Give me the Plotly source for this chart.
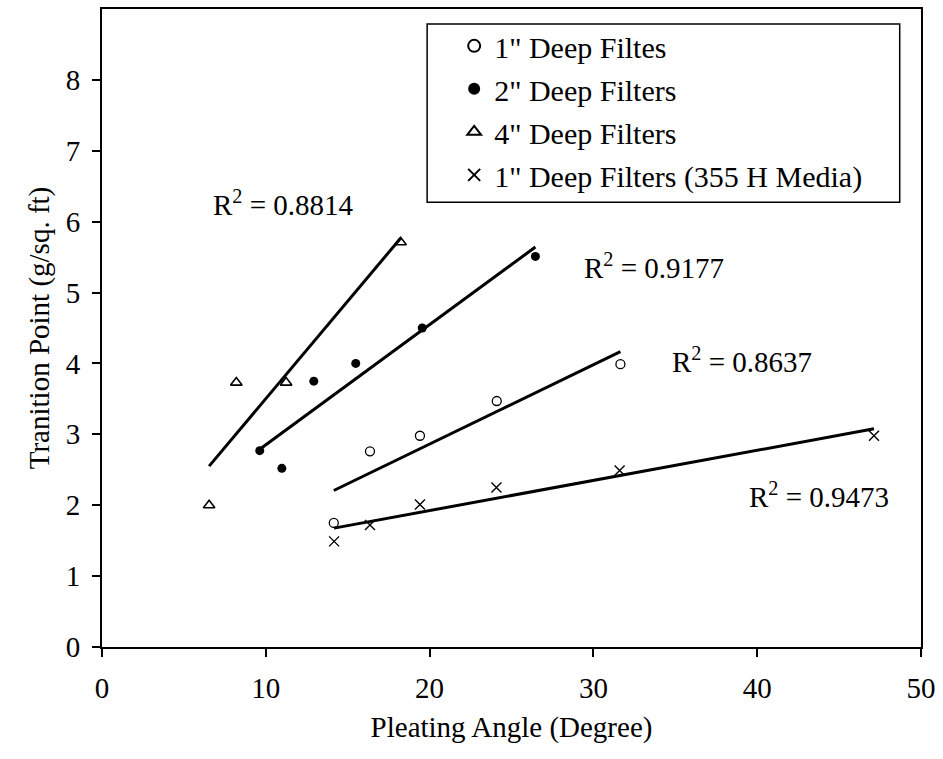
import numpy as np
import plotly.graph_objects as go

# Pleating angle (deg) vs. transition point (g/sq. ft)
x_1in = [14.15, 16.36, 19.41, 24.1, 31.65]
y_1in = [1.75, 2.76, 2.98, 3.47, 3.99]

x_2in = [9.63, 10.98, 12.93, 15.49, 19.55, 26.46]
y_2in = [2.77, 2.52, 3.75, 4.0, 4.5, 5.51]

x_4in = [6.54, 8.2, 11.24, 18.23]
y_4in = [2.0, 3.73, 3.73, 5.71]

x_355 = [14.17, 16.36, 19.41, 24.08, 31.6, 47.13]
y_355 = [1.49, 1.72, 2.01, 2.25, 2.49, 2.98]

r2_labels = ["R<sup>2</sup> = 0.8814", "R<sup>2</sup> = 0.9177",
             "R<sup>2</sup> = 0.8637", "R<sup>2</sup> = 0.9473"]
r2_x = [11.1, 33.7, 39.1, 43.8]
r2_y = [6.27, 5.38, 4.05, 2.15]

FONT = "Liberation Serif, Times New Roman, serif"
FS = 29

series = [
    ("1\" Deep Filtes", x_1in, y_1in, dict(symbol="circle-open", size=9, color="black", line=dict(width=1.3))),
    ("2\" Deep Filters", x_2in, y_2in, dict(symbol="circle", size=9, color="black")),
    ("4\" Deep Filters", x_4in, y_4in, dict(symbol="triangle-up-open", size=10, color="black", line=dict(width=1.6))),
    ("1\" Deep Filters (355 H Media)", x_355, y_355, dict(symbol="x-thin-open", size=10, color="black", line=dict(width=1.4))),
]

fig = go.Figure()

# linear trendlines over each series' x range
for name, xs, ys, _ in series:
    xs_a = np.array(xs)
    k, b = np.polyfit(xs_a, np.array(ys), 1)
    xl = np.array([xs_a.min(), xs_a.max()])
    fig.add_trace(go.Scatter(x=xl, y=k * xl + b, mode="lines",
                             line=dict(color="black", width=3),
                             showlegend=False, hoverinfo="skip"))

for i, (name, xs, ys, mk) in enumerate(series):
    fig.add_trace(go.Scatter(x=xs, y=ys, mode="markers", name=name,
                             marker=mk, legendgroup=f"g{i}"))

for txt, ax, ay in zip(r2_labels, r2_x, r2_y):
    fig.add_annotation(x=ax, y=ay, text=txt, showarrow=False,
                       font=dict(family=FONT, size=FS, color="black"))

# legend frame
fig.add_shape(type="rect", xref="paper", yref="paper",
              x0=0.397, x1=0.974, y0=0.697, y1=0.9765,
              line=dict(color="black", width=1.5), fillcolor="white", layer="above")

axis_common = dict(showline=True, linecolor="black", linewidth=2, mirror=True,
                   ticks="outside", ticklen=8, tickcolor="black", tickwidth=1.5,
                   showgrid=False, zeroline=False, ticklabelstandoff=6,
                   tickfont=dict(family=FONT, size=FS, color="black"))

fig.update_xaxes(range=[0, 50], tickvals=[0, 10, 20, 30, 40, 50],
                 title=dict(text="Pleating Angle (Degree)",
                            font=dict(family=FONT, size=FS, color="black"), standoff=14),
                 **axis_common)
fig.update_yaxes(range=[0, 9], tickvals=[0, 1, 2, 3, 4, 5, 6, 7, 8],
                 title=dict(text="Tranition Point (g/sq. ft)",
                            font=dict(family=FONT, size=FS, color="black"), standoff=8),
                 **axis_common)

fig.update_layout(
    width=943, height=759,
    margin=dict(l=102, r=22, t=7, b=112),
    plot_bgcolor="white", paper_bgcolor="white",
    legend=dict(x=0.43, y=0.983, xanchor="left", yanchor="top",
                bgcolor="rgba(0,0,0,0)", borderwidth=0,
                font=dict(family=FONT, size=30, color="black"),
                tracegroupgap=1, itemsizing="constant"),
)

fig.write_html("out.html")
